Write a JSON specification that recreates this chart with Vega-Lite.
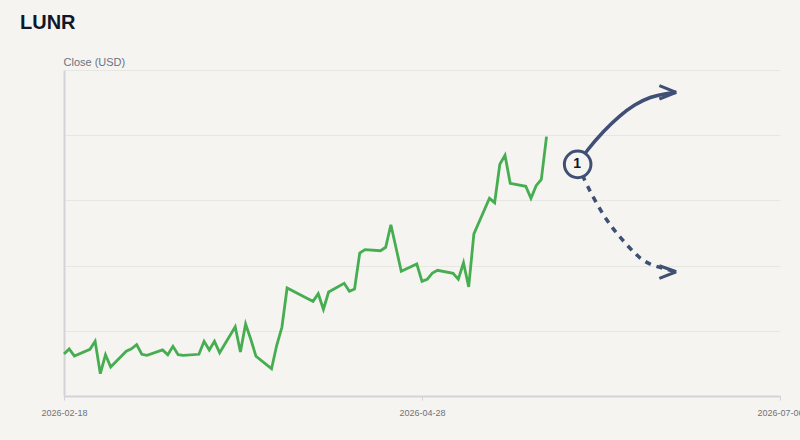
{
"$schema":"https://vega.github.io/schema/vega-lite/v6.json",
"autosize":{"type":"none"},
"padding":{"left":64,"top":70,"right":20,"bottom":44},
"width":716,"height":326,
"background":"#f5f4f0",
"title":{"text":"LUNR","anchor":"start","frame":"group","dx":-44,"offset":23,"fontSize":20,"fontWeight":"bold","font":"Liberation Sans","color":"#0f172a"},
"config":{"view":{"stroke":null}},
"datasets":{
"close":[
{"date":"2026-02-18","close":6.44},{"date":"2026-02-19","close":7.21},{"date":"2026-02-20","close":6.13},
{"date":"2026-02-23","close":7.16},{"date":"2026-02-24","close":8.39},{"date":"2026-02-25","close":3.42},{"date":"2026-02-26","close":6.33},{"date":"2026-02-27","close":4.45},
{"date":"2026-03-02","close":6.86},{"date":"2026-03-03","close":7.25},{"date":"2026-03-04","close":7.87},{"date":"2026-03-05","close":6.40},{"date":"2026-03-06","close":6.24},
{"date":"2026-03-09","close":7.06},{"date":"2026-03-10","close":6.33},{"date":"2026-03-11","close":7.62},{"date":"2026-03-12","close":6.33},{"date":"2026-03-13","close":6.24},
{"date":"2026-03-16","close":6.40},{"date":"2026-03-17","close":8.39},{"date":"2026-03-18","close":7.06},{"date":"2026-03-19","close":8.39},{"date":"2026-03-20","close":6.64},
{"date":"2026-03-23","close":10.63},{"date":"2026-03-24","close":6.75},{"date":"2026-03-25","close":11.04},{"date":"2026-03-26","close":8.70},{"date":"2026-03-27","close":6.09},
{"date":"2026-03-30","close":4.19},{"date":"2026-03-31","close":7.78},{"date":"2026-04-01","close":10.54},{"date":"2026-04-02","close":16.56},
{"date":"2026-04-06","close":14.92},{"date":"2026-04-07","close":14.52},{"date":"2026-04-08","close":15.69},{"date":"2026-04-09","close":13.30},{"date":"2026-04-10","close":15.95},
{"date":"2026-04-13","close":17.28},{"date":"2026-04-14","close":16.06},{"date":"2026-04-15","close":16.41},{"date":"2026-04-16","close":21.93},{"date":"2026-04-17","close":22.44},
{"date":"2026-04-20","close":22.28},{"date":"2026-04-21","close":22.81},{"date":"2026-04-22","close":26.27},{"date":"2026-04-23","close":22.70},{"date":"2026-04-24","close":19.13},
{"date":"2026-04-27","close":20.24},{"date":"2026-04-28","close":17.59},{"date":"2026-04-29","close":17.90},{"date":"2026-04-30","close":18.86},{"date":"2026-05-01","close":19.28},
{"date":"2026-05-04","close":18.82},{"date":"2026-05-05","close":17.90},{"date":"2026-05-06","close":20.44},{"date":"2026-05-07","close":16.72},{"date":"2026-05-08","close":24.85},
{"date":"2026-05-11","close":30.32},{"date":"2026-05-12","close":29.65},{"date":"2026-05-13","close":35.54},{"date":"2026-05-14","close":36.92},{"date":"2026-05-15","close":32.62},
{"date":"2026-05-18","close":32.16},{"date":"2026-05-19","close":30.32},{"date":"2026-05-20","close":32.25},{"date":"2026-05-21","close":33.23},{"date":"2026-05-22","close":39.77}
],
"up":[
{"date":"2026-05-28","value":35.53},{"date":"2026-05-30","value":37.80},{"date":"2026-06-02","value":40.56},{"date":"2026-06-05","value":42.86},{"date":"2026-06-08","value":44.62},{"date":"2026-06-11","value":45.78},{"date":"2026-06-14","value":46.37},{"date":"2026-06-16","value":46.58}
],
"down":[
{"date":"2026-05-28","value":35.53},{"date":"2026-05-30","value":32.05},{"date":"2026-06-02","value":27.76},{"date":"2026-06-05","value":24.54},{"date":"2026-06-08","value":21.93},{"date":"2026-06-11","value":20.24},{"date":"2026-06-16","value":19.06}
],
"heads":[
{"date":"2026-06-12T18:00:00Z","value":47.59,"arm":"a"},{"date":"2026-06-16","value":46.58,"arm":"a"},
{"date":"2026-06-12T18:00:00Z","value":45.55,"arm":"b"},{"date":"2026-06-16","value":46.58,"arm":"b"},
{"date":"2026-06-12T18:00:00Z","value":19.98,"arm":"c"},{"date":"2026-06-16","value":19.06,"arm":"c"},
{"date":"2026-06-12T18:00:00Z","value":18.05,"arm":"d"},{"date":"2026-06-16","value":19.06,"arm":"d"}
],
"marker":[{"date":"2026-05-28","value":35.53,"label":"1"}]
},
"layer":[
{"data":{"name":"close"},
 "mark":{"type":"line","color":"#46ad50","strokeWidth":2.8,"strokeJoin":"miter","clip":false},
 "encoding":{
  "x":{"field":"date","type":"temporal","scale":{"type":"utc","domain":["2026-02-18","2026-07-06"]},
   "axis":{"title":null,"values":["2026-02-18","2026-04-28","2026-07-06"],"format":"%Y-%m-%d","grid":false,"domainColor":"#d1d3d6","domainWidth":2,"tickColor":"#d1d3d6","tickWidth":1,"tickSize":4,"labelColor":"#6b7280","labelFontSize":9,"labelFont":"Liberation Sans","labelPadding":8,"labelOverlap":false,"labelBound":false,"labelFlush":false}},
  "y":{"field":"close","type":"quantitative","scale":{"domain":[0,50],"nice":false},
   "axis":{"title":"Close (USD)","titleAngle":0,"titleX":-1,"titleY":-3,"titleAlign":"left","titleBaseline":"bottom","titleColor":"#6b7280","titleFontSize":11,"titleFontWeight":"normal","titleFont":"Liberation Sans","labels":false,"ticks":false,"domainColor":"#d1d3d6","domainWidth":2,"grid":true,"gridColor":"#e6e6e3","gridWidth":1,"values":[0,10,20,30,40,50]}}
 }},
{"data":{"name":"up"},
 "mark":{"type":"line","color":"#3f4f75","strokeWidth":3.5,"interpolate":"natural"},
 "encoding":{"x":{"field":"date","type":"temporal"},"y":{"field":"value","type":"quantitative"}}},
{"data":{"name":"down"},
 "mark":{"type":"line","color":"#3f4f75","strokeWidth":3.5,"interpolate":"natural","strokeDash":[6,6]},
 "encoding":{"x":{"field":"date","type":"temporal"},"y":{"field":"value","type":"quantitative"}}},
{"data":{"name":"heads"},
 "mark":{"type":"line","color":"#3f4f75","strokeWidth":3},
 "encoding":{"x":{"field":"date","type":"temporal"},"y":{"field":"value","type":"quantitative"},"detail":{"field":"arm"}}},
{"data":{"name":"marker"},
 "mark":{"type":"point","shape":"circle","filled":false,"fill":"#f5f4f0","fillOpacity":1,"stroke":"#3f4f75","strokeWidth":3,"size":707,"opacity":1},
 "encoding":{"x":{"field":"date","type":"temporal"},"y":{"field":"value","type":"quantitative"}}},
{"data":{"name":"marker"},
 "mark":{"type":"text","font":"Liberation Sans","fontSize":14,"fontWeight":"bold","color":"#111827","align":"center","baseline":"middle","dx":-0.5},
 "encoding":{"x":{"field":"date","type":"temporal"},"y":{"field":"value","type":"quantitative"},"text":{"field":"label"}}}
]
}
